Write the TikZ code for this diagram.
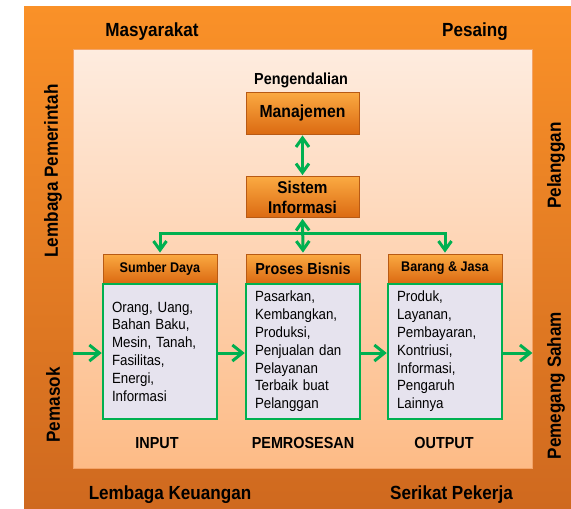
\documentclass[tikz,border=0pt]{standalone}
\usepackage{fontspec}
\setmainfont{Liberation Sans}[FakeStretch=0.9]
\usetikzlibrary{arrows.meta}
\definecolor{outerTop}{HTML}{FA9128}
\definecolor{outerBot}{HTML}{CF691F}
\definecolor{innerTop}{HTML}{FEECDF}
\definecolor{innerBot}{HTML}{FDBB86}
\definecolor{innerLine}{HTML}{F4A468}
\definecolor{oTop}{HTML}{FBAA42}
\definecolor{oBot}{HTML}{DB6A12}
\definecolor{oBord}{HTML}{B85A14}
\definecolor{lav}{HTML}{E6E3EE}
\definecolor{gr}{HTML}{00B050}
\tikzset{
  lab/.style={font=\bfseries\fontsize{19}{22}\selectfont, inner sep=0pt},
  obox/.style={draw=oBord, line width=0.8pt, top color=oTop, bottom color=oBot,
    minimum width=113pt, inner sep=0pt, align=center},
  hbox/.style={obox, minimum width=114pt, minimum height=29pt},
  gbox/.style={draw=gr, line width=2.5pt, fill=lav, minimum width=114pt,
    minimum height=135pt, text width=96pt, inner xsep=9pt, inner ysep=0pt,
    align=left, font=\fontsize{14.8}{17.8}\selectfont},
  gline/.style={draw=gr, line width=3pt},
  varrow/.style={gline, {Straight Barb[length=9pt,width=13pt]}-{Straight Barb[length=9pt,width=13pt]}, shorten <=1pt, shorten >=1pt},
  harrow/.style={gline, -{Straight Barb[length=10pt,width=16pt]}},
  sub/.style={font=\bfseries\fontsize{16}{19}\selectfont, inner sep=0pt, anchor=base}
}
\begin{document}
\begin{tikzpicture}[x=1pt,y=-1pt]
\useasboundingbox (0,0) rectangle (571,509);
\shade[top color=outerTop, bottom color=outerBot] (24,6) rectangle (571,509);
\node[draw=innerLine, line width=0.8pt, top color=innerTop, bottom color=innerBot,
  minimum width=459pt, minimum height=419pt, inner sep=0pt] (inner) at (302.5,258.5) {};

% outer labels
\node[lab, anchor=base] (masy) at (152,36.5) {Masyarakat};
\node[lab, anchor=base] (pes) at (475,36.5) {Pesaing};
\node[lab, anchor=base] (lk) at (170,499) {Lembaga Keuangan};
\node[lab, anchor=base] (spk) at (451.5,499) {Serikat Pekerja};
\node[lab, rotate=90] (lp) at (53,171) {Lembaga Pemerintah};
\node[lab, rotate=90] (pms) at (53,405) {Pemasok};
\node[lab, rotate=90] (pel) at (556,165.5) {Pelanggan};
\node[lab, rotate=90] (psh) at (556,385.5) {Pemegang Saham};

% management
\node[sub] (peng) at (301,84) {Pengendalian};
\node[obox, minimum height=42pt, font=\bfseries\fontsize{17.5}{20}\selectfont] (man) at (302.5,113) {Manajemen};
\node[obox, minimum height=41pt, font=\bfseries\fontsize{17}{20}\selectfont] (si) at (302.5,197) {Sistem\\Informasi};

% headers
\node[hbox, font=\bfseries\fontsize{14}{17}\selectfont] (h1) at (160,268.5) {Sumber Daya};
\node[hbox, font=\bfseries\fontsize{16}{19}\selectfont] (h2) at (303,268.5) {Proses Bisnis};
\node[hbox, font=\bfseries\fontsize{14}{17}\selectfont] (h3) at (445,268.5) {Barang \& Jasa};

% bodies
\node[gbox] (b1) at (160,351.5) {Orang, Uang,\\Bahan Baku,\\Mesin, Tanah,\\Fasilitas,\\Energi,\\Informasi};
\node[gbox] (b2) at (303,351.5) {Pasarkan,\\Kembangkan,\\Produksi,\\Penjualan dan\\Pelayanan\\Terbaik buat\\Pelanggan};
\node[gbox] (b3) at (445,351.5) {Produk,\\Layanan,\\Pembayaran,\\Kontriusi,\\Informasi,\\Pengaruh\\Lainnya};

% bottom labels
\node[sub] (inp) at (157,448) {INPUT};
\node[sub] (prs) at (303,448) {PEMROSESAN};
\node[sub] (out) at (444,448) {OUTPUT};

% connectors
\coordinate (yline) at (0,233);
\coordinate (arow) at (0,353);
\draw[varrow] (man.south) -- (si.north);
\draw[varrow] (si.south) -- (h2.north);
\draw[varrow] (h1.north) -- (h1.north |- yline) -- (h3.north |- yline) -- (h3.north);
\draw[harrow] (inner.west |- arow) -- (b1.west |- arow);
\draw[harrow] (b1.east |- arow) -- (b2.west |- arow);
\draw[harrow] (b2.east |- arow) -- (b3.west |- arow);
\draw[harrow] (b3.east |- arow) -- (inner.east |- arow);
\end{tikzpicture}
\end{document}
